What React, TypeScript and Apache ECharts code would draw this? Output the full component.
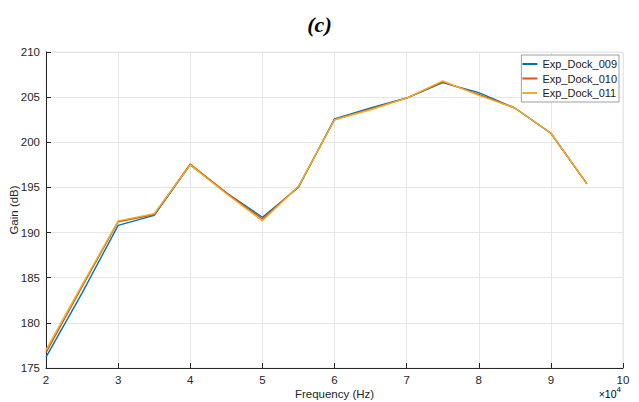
import React, { useEffect, useRef } from "react";
import * as echarts from "echarts";

const frequencies = [20000, 25000, 30000, 35000, 40000, 45000, 50000, 55000, 60000, 65000, 70000, 75000, 80000, 85000, 90000, 95000];
const dock009 = [176.2, 183.3, 190.8, 191.9, 197.5, 194.4, 191.7, 195.0, 202.6, 203.8, 204.9, 206.6, 205.5, 203.8, 201.0, 195.4];
const dock010 = [176.7, 184.0, 191.2, 192.0, 197.6, 194.4, 191.5, 195.1, 202.5, 203.7, 204.9, 206.7, 205.3, 203.8, 201.0, 195.4];
const dock011 = [177.0, 184.2, 191.3, 192.1, 197.5, 194.3, 191.3, 195.1, 202.5, 203.6, 204.9, 206.8, 205.2, 203.8, 201.0, 195.4];
const seriesNames = ["Exp_Dock_009", "Exp_Dock_010", "Exp_Dock_011"];
const seriesColors = ["#0072BD", "#D95319", "#EDB120"];
const title = "(c)";
const xLabel = "Frequency (Hz)";
const yLabel = "Gain (dB)";

export default function App() {
  const ref = useRef<HTMLDivElement>(null);
  useEffect(() => {
    if (!ref.current) return;
    const chart = echarts.init(ref.current, undefined, { renderer: "svg" });
    const allData = [dock009, dock010, dock011];
    const font = "Liberation Sans, Arial, sans-serif";
    chart.setOption({
      animation: false,
      backgroundColor: "#ffffff",
      title: {
        text: title,
        left: "center",
        top: 8,
        textStyle: {
          fontFamily: "Liberation Serif, Times New Roman, serif",
          fontStyle: "italic",
          fontWeight: "bold",
          fontSize: 22,
          color: "#000",
        },
      },
      grid: {
        left: 46, right: 16, top: 52, bottom: 34,
        outerBoundsMode: "none", containLabel: false,
        show: true, borderColor: "#e6e6e6", borderWidth: 1,
      },
      legend: {
        orient: "vertical",
        right: 20,
        top: 55,
        data: seriesNames,
        icon: "rect",
        itemWidth: 15,
        itemHeight: 2,
        itemGap: 2.5,
        padding: [3, 2, 3, 1],
        borderColor: "#a0a0a0",
        borderWidth: 1,
        backgroundColor: "#ffffff",
        textStyle: { fontFamily: font, fontSize: 11, color: "#222", lineHeight: 12 },
      },
      xAxis: {
        type: "value",
        min: 20000,
        max: 100000,
        interval: 10000,
        name: xLabel,
        nameLocation: "middle",
        nameGap: 20,
        nameMoveOverlap: false,
        nameTextStyle: { fontFamily: font, fontSize: 11.5, color: "#262626" },
        axisLine: { show: true, lineStyle: { color: "#262626", width: 1 } },
        axisTick: { show: true, inside: true, length: 5, lineStyle: { color: "#262626" } },
        axisLabel: { fontFamily: font, fontSize: 11.5, color: "#262626", margin: 6, formatter: (v: number) => String(v / 10000) },
        splitLine: { show: true, lineStyle: { color: "#e6e6e6", width: 1 } },
      },
      yAxis: {
        type: "value",
        min: 175,
        max: 210,
        interval: 5,
        name: yLabel,
        nameLocation: "middle",
        nameGap: 26,
        nameMoveOverlap: false,
        nameTextStyle: { fontFamily: font, fontSize: 11.5, color: "#262626" },
        axisLine: { show: true, lineStyle: { color: "#262626", width: 1 } },
        axisTick: { show: true, inside: true, length: 5, lineStyle: { color: "#262626" } },
        axisLabel: { fontFamily: font, fontSize: 11.5, color: "#262626", margin: 6 },
        splitLine: { show: true, lineStyle: { color: "#e6e6e6", width: 1 } },
      },
      graphic: [
        {
          type: "text",
          right: 18,
          top: 385,
          style: {
            text: "{a|×10}{b|4}",
            rich: {
              a: { fontFamily: font, fontSize: 10.5, color: "#262626", verticalAlign: "bottom" },
              b: { fontFamily: font, fontSize: 8, color: "#262626", verticalAlign: "top", padding: [0, 0, 6, 0] },
            },
          },
        },
      ],
      series: seriesNames.map((name, i) => ({
        name,
        type: "line",
        data: frequencies.map((f, j) => [f, allData[i][j]]),
        symbol: "none",
        showSymbol: false,
        lineStyle: { color: seriesColors[i], width: 1.4 },
        itemStyle: { color: seriesColors[i] },
        z: 2 + i,
      })),
    });
    return () => chart.dispose();
  }, []);
  return <div ref={ref} style={{ width: 639, height: 402, position: "absolute", left: 0, top: 0 }} />;
}
